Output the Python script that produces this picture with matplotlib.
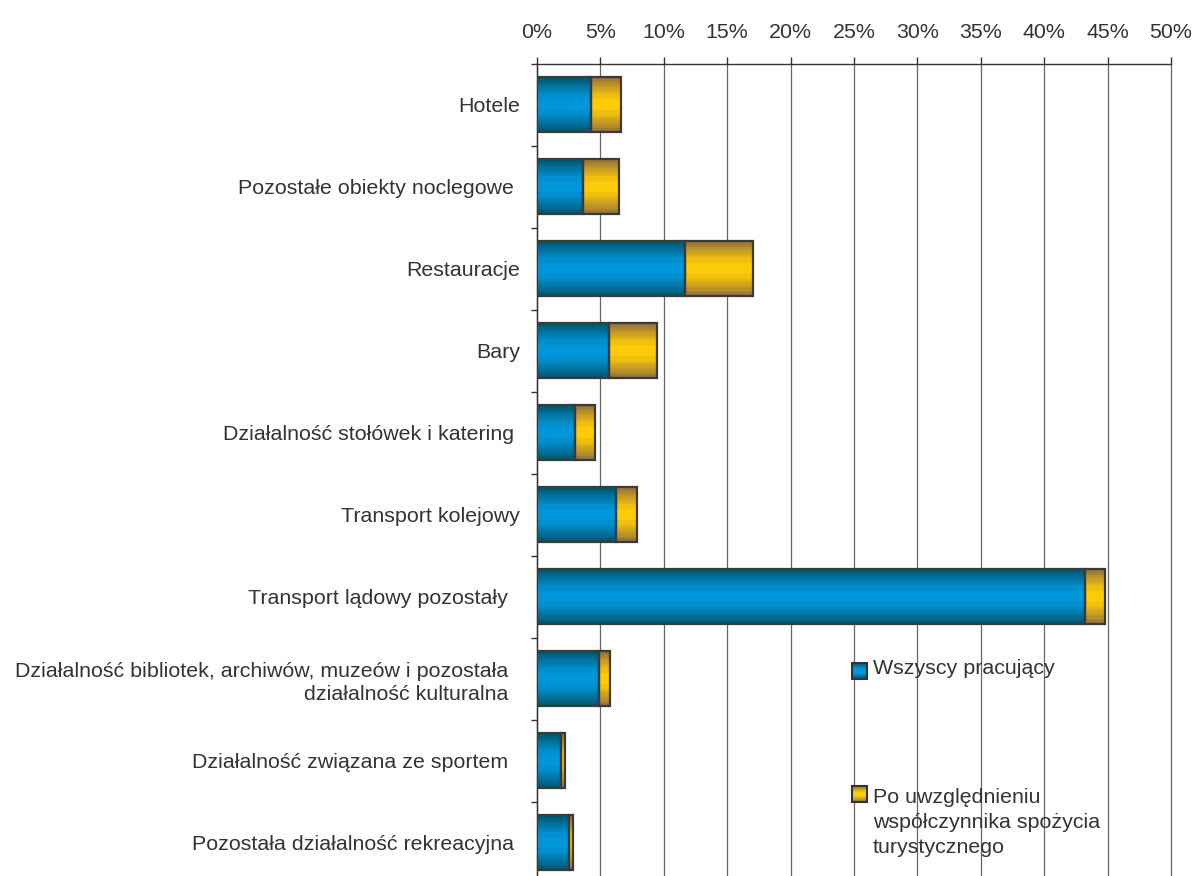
import numpy as np
import matplotlib.pyplot as plt
from matplotlib.patches import Rectangle

plt.rcParams['font.family'] = ['Liberation Sans', 'DejaVu Sans']
plt.rcParams['font.size'] = 15.4
plt.rcParams['text.color'] = '#333333'

# data (% of employed)
categories = ['Hotele', 'Pozostałe obiekty noclegowe ', 'Restauracje', 'Bary',
              'Działalność stołówek i katering ', 'Transport kolejowy',
              'Transport lądowy pozostały  ',
              'Działalność bibliotek, archiwów, muzeów i pozostała  \ndziałalność kulturalna  ',
              'Działalność związana ze sportem  ', 'Pozostała działalność rekreacyjna ']
wszyscy = [4.26, 3.63, 11.67, 5.68, 3.0, 6.2, 43.2, 4.92, 1.87, 2.55]
po_uwzgl = [2.36, 2.86, 5.39, 3.78, 1.6, 1.7, 1.6, 0.8, 0.33, 0.32]
x_ticks = np.arange(0, 51, 5)

label_1 = 'Wszyscy pracujący'
label_2 = 'Po uwzględnieniu\nwspółczynnika spożycia\nturystycznego'

BLUE = ('#00566f', '#0097da')
GOLD = ('#94703a', '#fdcb08')


def band_image(edge, mid, n=60):
    t = np.linspace(0, 1, n)
    f = np.sin(np.pi * t) ** 1.1
    f = np.round(f * 9) / 9  # stepped look
    e = np.array(plt.matplotlib.colors.to_rgb(edge))
    m = np.array(plt.matplotlib.colors.to_rgb(mid))
    return (e + (m - e) * f[:, None])[:, None, :]


def fill_gradient(ax, patch, colors, transform=None):
    x0, y0 = patch.get_x(), patch.get_y()
    w, h = patch.get_width(), patch.get_height()
    kw = {} if transform is None else {'transform': transform}
    im = ax.imshow(band_image(*colors), extent=[x0, x0 + w, y0, y0 + h],
                   aspect='auto', interpolation='nearest', zorder=3, **kw)
    im.set_clip_path(patch)


fig = plt.figure(figsize=(11.95, 8.76), dpi=100)
ax = fig.add_axes([0.4494, -0.0091, 0.5305, 0.9361])

y = np.arange(len(categories))
bars1 = ax.barh(y, wszyscy, height=0.67, facecolor='none',
                edgecolor='#3a3a3a', linewidth=1.6, zorder=4)
bars2 = ax.barh(y, po_uwzgl, left=wszyscy, height=0.67, facecolor='none',
                edgecolor='#3a3a3a', linewidth=1.6, zorder=4)
for p in bars1:
    fill_gradient(ax, p, BLUE)
for p in bars2:
    fill_gradient(ax, p, GOLD)

# axes styling
ax.xaxis.tick_top()
ax.set_xticks(x_ticks)
ax.set_xticklabels([f'{v}%' for v in x_ticks])
ax.tick_params(axis='x', direction='out', length=5, width=1, color='#333333',
               pad=11, labelcolor='#333333')
ax.set_yticks(y)
ax.set_yticklabels(categories, linespacing=1.3)
ax.set_yticks(np.arange(len(categories) + 1) - 0.5, minor=True)
ax.tick_params(axis='y', which='major', length=0, pad=12, labelcolor='#333333')
ax.tick_params(axis='y', which='minor', direction='out', length=4.5, width=1,
               color='#333333')
ax.grid(axis='x', color='#666666', linewidth=0.9, zorder=0)
for gl in ax.get_xgridlines():
    gl.set_clip_on(False)
ax.set_axisbelow(True)
for s in ['right', 'bottom']:
    ax.spines[s].set_visible(False)
for s in ['top', 'left']:
    ax.spines[s].set_color('#333333')
    ax.spines[s].set_linewidth(1)

# legend, drawn inside the plot area
for (ly, colors, txt, ty) in [(0.25, BLUE, label_1, 0.2745),
                              (0.10, GOLD, label_2, 0.1172)]:
    sq = Rectangle((0.497, ly), 0.0237, 0.0195, transform=ax.transAxes,
                   facecolor='none', edgecolor='#333333', linewidth=1.5, zorder=6)
    ax.add_patch(sq)
    fill_gradient(ax, sq, colors, transform=ax.transAxes)
    ax.text(0.530, ty, txt, transform=ax.transAxes, va='top', ha='left',
            linespacing=1.4, zorder=6)

ax.set_xlim(0, 50)
ax.set_ylim(len(categories) - 0.5, -0.5)

fig.savefig('out.png', dpi=100)
